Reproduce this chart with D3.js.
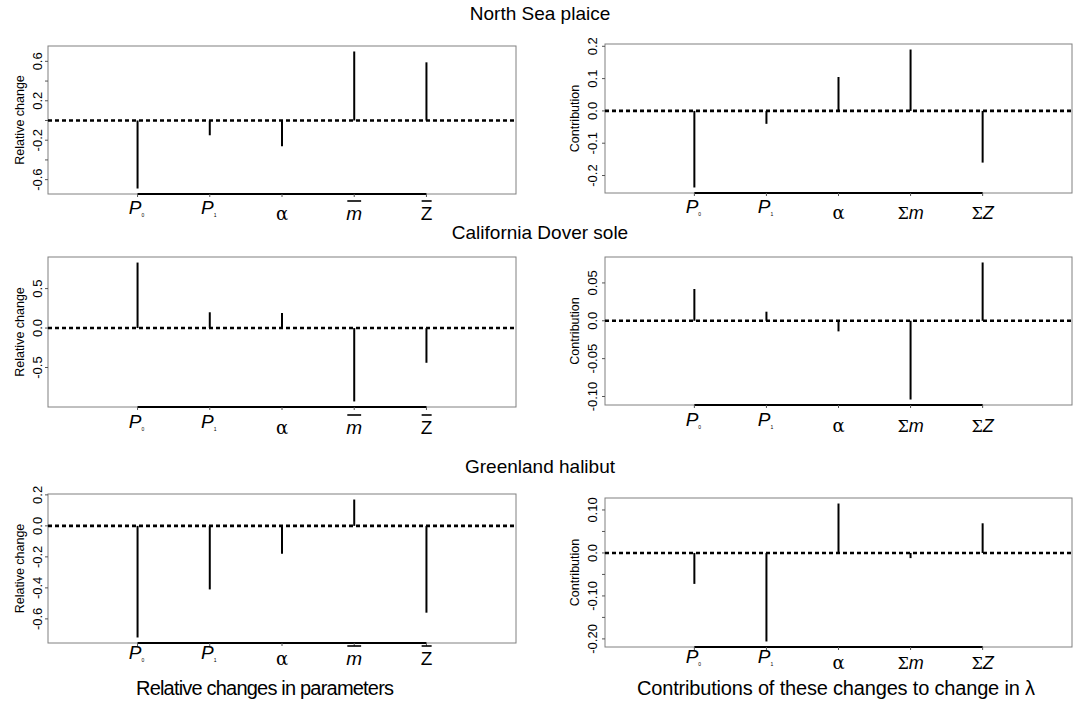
<!DOCTYPE html>
<html><head><meta charset="utf-8">
<script src="https://cdn.jsdelivr.net/npm/d3@7"></script>
<style>
body{margin:0;background:#fff;}
text{font-family:"Liberation Sans",Arial,Helvetica,sans-serif;fill:#000;}
</style></head>
<body><svg id="chart" width="1077" height="704"></svg>
<script>
// ---------------- data ----------------
const panelTitles = ["North Sea plaice", "California Dover sole", "Greenland halibut"];
const bottomCaptions = ["Relative changes in parameters", "Contributions of these changes to change in \u03bb"];
const yTitles = ["Relative change", "Contribution"];
const xPositions = [1, 2, 3, 4, 5];
const relParamLabels = ["P0", "P1", "alpha", "mbar", "Zbar"];
const contribParamLabels = ["P0", "P1", "alpha", "sumM", "sumZ"];

const nspRel      = [-0.69, -0.15, -0.26, 0.70, 0.59];
const nspContrib  = [-0.237, -0.04, 0.105, 0.19, -0.16];
const cdsRel      = [0.83, 0.20, 0.19, -0.93, -0.44];
const cdsContrib  = [0.042, 0.012, -0.014, -0.104, 0.077];
const ghRel       = [-0.72, -0.41, -0.18, 0.17, -0.56];
const ghContrib   = [-0.072, -0.206, 0.115, -0.012, 0.069];

const nspRelTicks = [-0.6, -0.4, -0.2, 0, 0.2, 0.4, 0.6];
const nspRelTickLabels = ["-0.6", "", "-0.2", "", "0.2", "", "0.6"];
const nspContribTicks = [-0.2, -0.1, 0, 0.1, 0.2];
const nspContribTickLabels = ["-0.2", "-0.1", "0.0", "0.1", "0.2"];
const cdsRelTicks = [-0.5, 0, 0.5];
const cdsRelTickLabels = ["-0.5", "0.0", "0.5"];
const cdsContribTicks = [-0.10, -0.05, 0, 0.05];
const cdsContribTickLabels = ["-0.10", "-0.05", "0.0", "0.05"];
const ghRelTicks = [-0.6, -0.4, -0.2, 0, 0.2];
const ghRelTickLabels = ["-0.6", "-0.4", "-0.2", "0.0", "0.2"];
const ghContribTicks = [-0.20, -0.15, -0.10, -0.05, 0, 0.05, 0.10];
const ghContribTickLabels = ["-0.20", "", "-0.10", "", "0.0", "", "0.10"];

// ---------------- layout ----------------
const svg = d3.select("#chart");
const cols = [
  {x0: 48, x1: 516, tickLabX: 37, titleX: 20, labels: relParamLabels, yTitle: yTitles[0]},
  {x0: 605, x1: 1072, tickLabX: 592, titleX: 575, labels: contribParamLabels, yTitle: yTitles[1]}
];
const rows = [
  {titleY: 20, labOff: 20, boxes: [[46, 194], [44, 193]], values: [nspRel, nspContrib],
   ticks: [nspRelTicks, nspContribTicks], tickLabels: [nspRelTickLabels, nspContribTickLabels]},
  {titleY: 239, labOff: 21, boxes: [[257, 407], [257, 405]], values: [cdsRel, cdsContrib],
   ticks: [cdsRelTicks, cdsContribTicks], tickLabels: [cdsRelTickLabels, cdsContribTickLabels]},
  {titleY: 473, labOff: 16, boxes: [[494, 643], [498, 647]], values: [ghRel, ghContrib],
   ticks: [ghRelTicks, ghContribTicks], tickLabels: [ghRelTickLabels, ghContribTickLabels]}
];

function extendRange(vals) {
  const e = d3.extent(vals.concat([0]));
  const d = (e[1] - e[0]) * 0.04;
  return [e[0] - d, e[1] + d];
}

function drawLabel(g, kind, x, yb) {
  if (kind === "P0" || kind === "P1") {
    const t = g.append("text").attr("x", x - 1).attr("y", yb).attr("text-anchor", "middle")
      .style("font-size", "19px");
    t.append("tspan").style("font-style", "italic").text("P");
    t.append("tspan").attr("dy", 3).style("font-size", "5px").text(kind === "P0" ? "0" : "1");
  } else if (kind === "alpha") {
    g.append("text").attr("x", x).attr("y", yb + 6).attr("text-anchor", "middle")
      .style("font-size", "18px").style("font-family", "'DejaVu Serif',serif").text("\u03b1");
  } else if (kind === "mbar" || kind === "Zbar") {
    const t = g.append("text").attr("x", x).attr("y", yb + 6).attr("text-anchor", "middle")
      .style("font-size", "19px").style("font-style", kind === "mbar" ? "italic" : "normal")
      .text(kind === "mbar" ? "m" : "Z");
    const bb = t.node().getBBox();
    g.append("line").attr("x1", bb.x + 1).attr("x2", bb.x + bb.width - 1)
      .attr("y1", yb + 6 - 19).attr("y2", yb + 6 - 19)
      .attr("stroke", "#000").attr("stroke-width", 1.6);
  } else {
    const t = g.append("text").attr("x", x).attr("y", yb + 6).attr("text-anchor", "middle")
      .style("font-size", "18px");
    t.append("tspan").style("font-family", "'DejaVu Serif',serif").style("font-size", "16px").text("\u03a3");
    t.append("tspan").style("font-style", "italic").text(kind === "sumM" ? "m" : "Z");
  }
}

rows.forEach((row, ri) => {
  svg.append("text").attr("x", 540).attr("y", row.titleY).attr("text-anchor", "middle")
    .style("font-size", "19px").text(panelTitles[ri]);
  cols.forEach((col, ci) => {
    const [top, bottom] = row.boxes[ci];
    const vals = row.values[ci];
    const x = d3.scaleLinear().domain([-0.24, 6.24]).range([col.x0, col.x1]);
    const y = d3.scaleLinear().domain(extendRange(vals)).range([bottom, top]);
    const g = svg.append("g");

    // box
    g.append("rect").attr("x", col.x0).attr("y", top).attr("width", col.x1 - col.x0)
      .attr("height", bottom - top).attr("fill", "none").attr("stroke", "#808080").attr("stroke-width", 1);

    // y axis ticks + labels
    const ticks = row.ticks[ci], labs = row.tickLabels[ci];
    ticks.forEach((tv, k) => {
      g.append("line").attr("x1", col.x0 - 3).attr("x2", col.x0).attr("y1", y(tv)).attr("y2", y(tv))
        .attr("stroke", "#555").attr("stroke-width", 1);
      if (labs[k]) {
        g.append("text").attr("transform", `translate(${col.tickLabX},${y(tv)}) rotate(-90)`)
          .attr("text-anchor", "middle").attr("dy", "0.35em").style("font-size", "13px").text(labs[k]);
      }
    });
    g.append("text").attr("transform", `translate(${col.titleX},${(top + bottom) / 2}) rotate(-90)`)
      .attr("text-anchor", "middle").attr("dy", "0.35em").style("font-size", "12.5px").text(col.yTitle);

    // zero line
    g.append("line").attr("x1", col.x0).attr("x2", col.x1).attr("y1", y(0)).attr("y2", y(0))
      .attr("stroke", "#000").attr("stroke-width", 2.6).attr("stroke-dasharray", "4,3");

    // bars (type = "h")
    g.selectAll("line.bar").data(vals).enter().append("line").attr("class", "bar")
      .attr("x1", (d, i) => x(xPositions[i])).attr("x2", (d, i) => x(xPositions[i]))
      .attr("y1", y(0)).attr("y2", d => y(d))
      .attr("stroke", "#000").attr("stroke-width", 2);

    // x axis
    g.append("line").attr("x1", x(xPositions[0])).attr("x2", x(xPositions[xPositions.length - 1]))
      .attr("y1", bottom).attr("y2", bottom).attr("stroke", "#000").attr("stroke-width", 2);
    xPositions.forEach((p, i) => {
      g.append("line").attr("x1", x(p)).attr("x2", x(p)).attr("y1", bottom).attr("y2", bottom + 3)
        .attr("stroke", "#555").attr("stroke-width", 1);
      drawLabel(g, col.labels[i], x(p), bottom + row.labOff);
    });
  });
});

svg.append("text").attr("x", 265).attr("y", 695).attr("text-anchor", "middle")
  .style("font-size", "20px").attr("textLength", 258).attr("lengthAdjust", "spacing").text(bottomCaptions[0]);
svg.append("text").attr("x", 836).attr("y", 695).attr("text-anchor", "middle")
  .style("font-size", "20px").attr("textLength", 398).attr("lengthAdjust", "spacing").text(bottomCaptions[1]);
</script></body></html>
